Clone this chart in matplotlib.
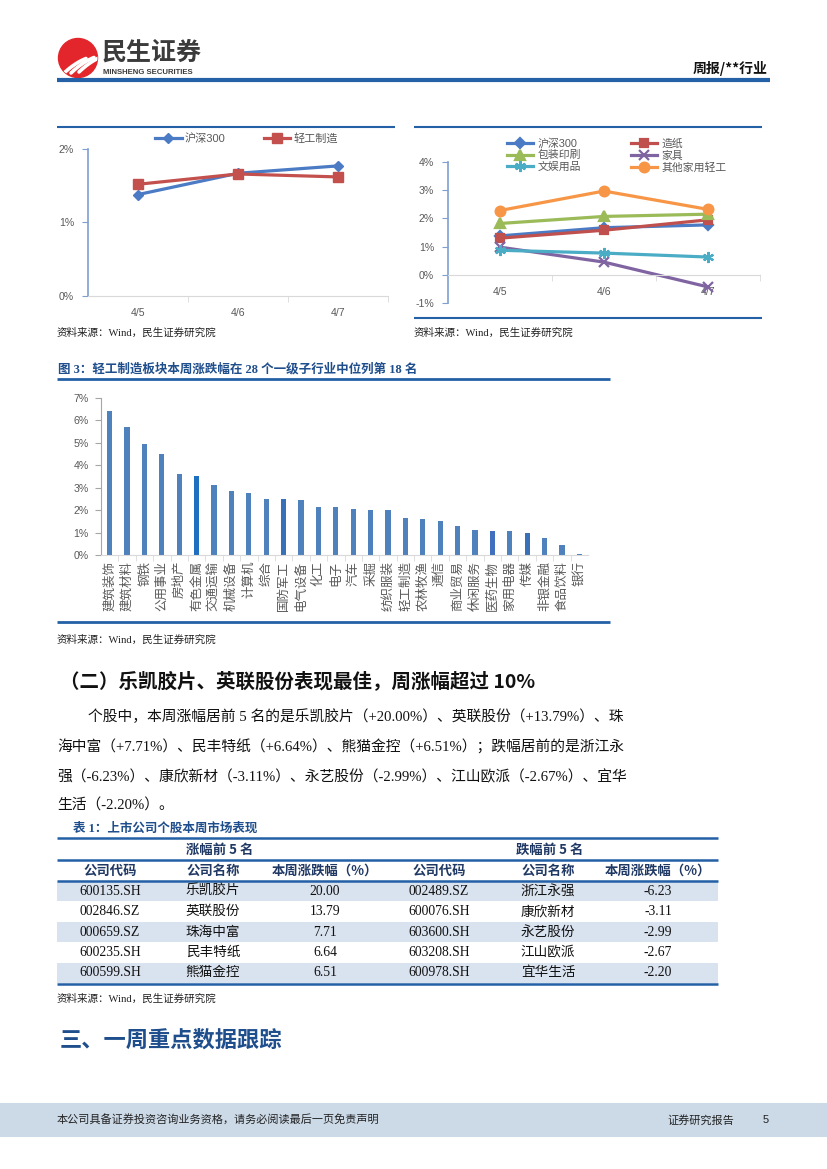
import numpy as np
import matplotlib
matplotlib.use('Agg')
import matplotlib.pyplot as plt
from matplotlib.patches import Circle, Rectangle

plt.rcParams['font.family'] = ['Liberation Sans', 'Noto Sans CJK SC', 'DejaVu Sans']

W, H = 827, 1169
BLUE = '#2360A5'
NAVY = '#1F4E8C'
GRAY = '#595959'
SERIF = ['Liberation Serif', 'Noto Sans CJK SC', 'DejaVu Sans']
CJK = ['Noto Sans CJK SC', 'DejaVu Sans']

# ---- data ----
dates = ['4/5', '4/6', '4/7']
hs300 = [1.38, 1.67, 1.77]
qinggong = [1.52, 1.66, 1.62]

sub_labels = ['沪深300', '造纸', '包装印刷', '家具', '文娱用品', '其他家用轻工']
sub_hs300 = [1.38, 1.67, 1.77]
zaozhi = [1.30, 1.58, 1.95]
baozhuang = [1.82, 2.07, 2.15]
jiaju = [0.98, 0.45, -0.43]
wenyu = [0.87, 0.77, 0.63]
qita = [2.28, 2.97, 2.32]

industries = ['建筑装饰', '建筑材料', '钢铁', '公用事业', '房地产', '有色金属', '交通运输',
              '机械设备', '计算机', '综合', '国防军工', '电气设备', '化工', '电子', '汽车',
              '采掘', '纺织服装', '轻工制造', '农林牧渔', '通信', '商业贸易', '休闲服务',
              '医药生物', '家用电器', '传媒', '非银金融', '食品饮料', '银行']
ind_change = [6.40, 5.72, 4.95, 4.50, 3.60, 3.52, 3.14, 2.84, 2.75, 2.50, 2.48, 2.44,
              2.15, 2.12, 2.05, 2.00, 2.00, 1.65, 1.62, 1.50, 1.28, 1.10, 1.07, 1.07,
              1.00, 0.78, 0.46, 0.03]

up_codes = ['600135.SH', '002846.SZ', '000659.SZ', '600235.SH', '600599.SH']
up_names = ['乐凯胶片', '英联股份', '珠海中富', '民丰特纸', '熊猫金控']
up_pct = [20.00, 13.79, 7.71, 6.64, 6.51]
down_codes = ['002489.SZ', '600076.SH', '603600.SH', '603208.SH', '600978.SH']
down_names = ['浙江永强', '康欣新材', '永艺股份', '江山欧派', '宜华生活']
down_pct = [-6.23, -3.11, -2.99, -2.67, -2.20]

body_lines = [
    '个股中，本周涨幅居前 5 名的是乐凯胶片（+20.00%）、英联股份（+13.79%）、珠',
    '海中富（+7.71%）、民丰特纸（+6.64%）、熊猫金控（+6.51%）；跌幅居前的是浙江永',
    '强（-6.23%）、康欣新材（-3.11%）、永艺股份（-2.99%）、江山欧派（-2.67%）、宜华',
    '生活（-2.20%）。',
]


def box(x0, y0, x1, y1):
    return [x0 / W, 1 - y1 / H, (x1 - x0) / W, (y1 - y0) / H]


fig = plt.figure(figsize=(W / 100, H / 100), dpi=100)
page = fig.add_axes([0, 0, 1, 1])
page.set_xlim(0, W)
page.set_ylim(H, 0)
page.axis('off')


def rule(y, x0, x1, lw=1.5, color=BLUE):
    page.plot([x0, x1], [y, y], color=color, lw=lw, solid_capstyle='butt')


def source(x, y):
    page.text(x, y, '资料来源：Wind，民生证券研究院', fontsize=7.6, family=SERIF,
              va='center', color='#222222')


# ---- header ----
logo = Circle((78, 58), 19.5, color='#E2262B')
page.add_patch(logo)
for k in range(3):
    xs = np.linspace(63 + k * 8, 86 + k * 8, 20)
    ys = 74 - k * 1 - (xs - xs[0]) * 0.95 + 0.012 * (xs - xs[0]) ** 2
    ln, = page.plot(xs, ys, color='white', lw=2.6, solid_capstyle='round')
    ln.set_clip_path(logo)
page.text(102, 53, '民生证券', fontsize=18, fontweight='bold', family=CJK,
          color='#3B3B3B', va='center')
page.text(103, 72, 'MINSHENG SECURITIES', fontsize=5.6, fontweight='bold',
          color='#3B3B3B', va='center')
page.text(768, 68, '周报/**行业', fontsize=10, fontweight='bold', family=CJK,
          ha='right', va='center', color='#111111')
rule(80, 57, 770, lw=3)

# ---- chart 1 ----
rule(127, 57, 395, lw=1.5)
ax1 = fig.add_axes(box(88, 149, 388, 296))
x = np.arange(len(dates))
ax1.plot(x, hs300, color='#4A7BC4', lw=2.3, marker='D', ms=5.5, label='沪深300', clip_on=False)
ax1.plot(x, qinggong, color='#C4504D', lw=2.3, marker='s', ms=7, label='轻工制造', clip_on=False)
ax1.set_xlim(-0.5, 2.5)
ax1.set_ylim(0, 2)
ax1.set_yticks([0, 1, 2])
ax1.set_yticklabels(['0%', '1%', '2%'])
ax1.set_xticks(x)
ax1.set_xticklabels(dates)
ax1.set_xticks([0.5, 1.5, 2.5], minor=True)
ax1.legend(loc='upper left', bbox_to_anchor=(155 / W, 1 - 133 / H),
           bbox_transform=fig.transFigure, ncol=2, frameon=False, fontsize=8,
           handlelength=2.4, handletextpad=0.3, columnspacing=3.4,
           borderpad=0, borderaxespad=0, labelcolor=GRAY)
source(57, 333)

# ---- chart 2 ----
rule(127, 414, 762, lw=1.5)
rule(318, 414, 762, lw=1.5)
ax2 = fig.add_axes(box(448, 162, 760, 303))
styles = [
    (sub_hs300, '#4A7BC4', 'D', 5),
    (zaozhi, '#C0504D', 's', 6),
    (baozhuang, '#9BBB59', '^', 6.5),
    (jiaju, '#8064A2', 'x', 7),
    (wenyu, '#4BACC6', (6, 2, 0), 8),
    (qita, '#F79646', 'o', 7),
]
handles = []
for (vals, col, mk, ms), lab in zip(styles, sub_labels):
    h, = ax2.plot(x, vals, color=col, lw=2.3, marker=mk, ms=ms, mew=1.6,
                  label=lab, clip_on=False)
    handles.append(h)
ax2.set_xlim(-0.5, 2.5)
ax2.set_ylim(-1, 4)
ax2.set_yticks([-1, 0, 1, 2, 3, 4])
ax2.set_yticklabels(['-1%', '0%', '1%', '2%', '3%', '4%'])
ax2.set_xticks(x)
ax2.set_xticklabels(dates)
ax2.set_xticks([0.5, 1.5, 2.5], minor=True)
ax2.spines['bottom'].set_position(('data', 0))
order = [0, 2, 4, 1, 3, 5]
ax2.legend([handles[i] for i in order], [sub_labels[i] for i in order],
           loc='upper left', bbox_to_anchor=(507 / W, 1 - 138 / H),
           bbox_transform=fig.transFigure, ncol=2, frameon=False, fontsize=7.8,
           handlelength=2.4, handletextpad=0.4, columnspacing=4.6, labelspacing=0.14,
           borderpad=0, borderaxespad=0, labelcolor=GRAY)
source(414, 333)

for ax in (ax1, ax2):
    ax.patch.set_alpha(0)
    for s in ['top', 'right']:
        ax.spines[s].set_visible(False)
    ax.spines['left'].set_color('#7F9FD0')
    ax.spines['left'].set_linewidth(1.2)
    ax.spines['bottom'].set_color('#D9D9D9')
    ax.tick_params(axis='x', which='major', length=0, pad=9, labelsize=7.6, labelcolor=GRAY)
    ax.tick_params(axis='x', which='minor', length=4, color='#D9D9D9')
    ax.tick_params(axis='y', length=4, color='#7F9FD0', pad=6, labelsize=7.6, labelcolor=GRAY)

# ---- chart 3 ----
page.text(58, 369, '图 3：轻工制造板块本周涨跌幅在 28 个一级子行业中位列第 18 名',
          fontsize=9, fontweight='bold', family=SERIF, color=NAVY, va='center')
rule(379, 57, 610, lw=2)
ax3 = fig.add_axes(box(101, 398, 588, 555))
pos = np.arange(len(industries))
colors = ['#4F81BD'] * len(industries)
colors[5] = '#1F6FC0'
colors[10] = '#3A70B8'
colors[22] = '#3F6FBE'
colors[24] = '#3A70B8'
ax3.bar(pos, ind_change, width=0.3, color=colors)
ax3.set_xlim(-0.5, len(industries) - 0.5)
ax3.set_ylim(0, 7)
ax3.set_yticks(range(8))
ax3.set_yticklabels(['%d%%' % v for v in range(8)])
ax3.set_xticks(pos)
ax3.set_xticklabels(industries, rotation=90, family=CJK)
ax3.set_xticks(pos[:-1] + 0.5, minor=True)
ax3.patch.set_alpha(0)
for s in ['top', 'right']:
    ax3.spines[s].set_visible(False)
ax3.spines['left'].set_color('#A6A6A6')
ax3.spines['bottom'].set_color('#D9D9D9')
ax3.tick_params(axis='x', which='major', length=0, pad=4, labelsize=9, labelcolor=GRAY)
ax3.tick_params(axis='x', which='minor', length=4, color='#D9D9D9')
ax3.tick_params(axis='y', length=4, color='#A6A6A6', pad=5, labelsize=7.6, labelcolor=GRAY)
rule(622, 57, 610, lw=2)
source(57, 640)

# ---- section text ----
page.text(60, 681, '（二）乐凯胶片、英联股份表现最佳，周涨幅超过 10%', fontsize=14,
          fontweight='bold', family=CJK, va='center', color='#111111')
line_y = [717, 747, 777, 806]
for i, (ln, yy) in enumerate(zip(body_lines, line_y)):
    page.text(88 if i == 0 else 57, yy, ln, fontsize=10.65, family=SERIF,
              va='center', color='#111111')

# ---- table ----
page.text(73, 829, '表 1：上市公司个股本周市场表现', fontsize=9, fontweight='bold',
          family=SERIF, color=NAVY, va='center')
TX0, TX1 = 57, 718
row_top = 881
row_h = 20.4
for r in range(len(up_codes)):
    if r % 2 == 0:
        page.add_patch(Rectangle((TX0, row_top + r * row_h), TX1 - TX0, row_h,
                                 color='#D9E2EF', lw=0))
rule(838, TX0, TX1, lw=1.8)
rule(860, TX0, TX1, lw=1.8)
rule(row_top, TX0, TX1, lw=1.8)
rule(row_top + 5 * row_h + 0.5, TX0, TX1, lw=1.8)
col_x = [110, 213, 325, 439, 548, 658]
page.text(220, 850, '涨幅前 5 名', fontsize=9.6, fontweight='bold', family=CJK,
          color='#1F3864', ha='center', va='center')
page.text(550, 850, '跌幅前 5 名', fontsize=9.6, fontweight='bold', family=CJK,
          color='#1F3864', ha='center', va='center')
heads = ['公司代码', '公司名称', '本周涨跌幅（%）'] * 2
for cx, hd in zip(col_x, heads):
    page.text(cx, 871, hd, fontsize=9.6, fontweight='bold', family=CJK,
              color='#1F3864', ha='center', va='center')
for r in range(len(up_codes)):
    yy = row_top + (r + 0.5) * row_h
    cells = [up_codes[r], up_names[r], '%.2f' % up_pct[r],
             down_codes[r], down_names[r], '%.2f' % down_pct[r]]
    for cx, c in zip(col_x, cells):
        page.text(cx, yy, c, fontsize=9.8, family=SERIF, color='#111111',
                  ha='center', va='center')
source(57, 999)

# ---- next section ----
page.text(60, 1040, '三、一周重点数据跟踪', fontsize=16, fontweight='bold', family=CJK,
          color=NAVY, va='center')

# ---- footer ----
page.add_patch(Rectangle((0, 1103), W, 34, color='#CCDAE8', lw=0))
page.text(57, 1120, '本公司具备证券投资咨询业务资格，请务必阅读最后一页免责声明',
          fontsize=8, family=CJK, va='center', color='#222222')
page.text(667, 1120, '证券研究报告', fontsize=8, family=CJK, va='center', color='#222222')
page.text(763, 1120, '5', fontsize=8, va='center', color='#222222')

fig.savefig('out.png', dpi=100)
